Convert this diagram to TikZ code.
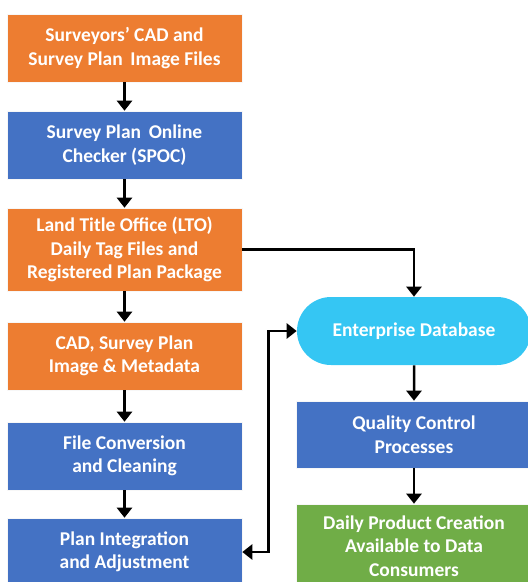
\documentclass[tikz,border=0pt]{standalone}
\usepackage{fontspec}
\setmainfont{Carlito}
\usetikzlibrary{arrows.meta,shapes.misc}
\definecolor{orangeF}{HTML}{ED7D31}
\definecolor{blueF}{HTML}{4472C4}
\definecolor{cyanF}{HTML}{35C6F3}
\definecolor{greenF}{HTML}{70AD47}
\begin{document}
\begin{tikzpicture}[x=1pt,y=-1pt,
  box/.style={rectangle, draw=white!70!black!10, line width=0.6pt, minimum width=235pt, minimum height=68pt,
    text=white, font=\fontsize{19.5}{23.5}\selectfont\bfseries, align=center, inner sep=0pt},
  obox/.style={box, fill=orangeF},
  bbox/.style={box, fill=blueF},
  gbox/.style={box, fill=greenF},
  dbbox/.style={box, fill=cyanF, draw=none, rounded rectangle},
  conn/.style={line width=2.5pt, -{Triangle[width=15pt,length=10pt]}},
  dconn/.style={line width=2.5pt, {Triangle[width=15pt,length=10pt]}-{Triangle[width=15pt,length=10pt]}}]
\useasboundingbox (0,0) rectangle (528,582);
\clip (0,0) rectangle (528,582);
\node[obox] (b1) at (124.5,48) {Surveyors’ CAD and\\Survey Plan\, Image Files};
\node[bbox] (b2) at (124.5,145) {Survey Plan\, Online\\Checker (SPOC)};
\node[obox, minimum height=83pt] (b3) at (124.5,249.5) {Land Title Office (LTO)\\Daily Tag Files and\\Registered Plan Package};
\node[obox] (b4) at (124.5,356) {CAD, Survey Plan\\Image \& Metadata};
\node[bbox] (b5) at (124.5,456) {File Conversion\\and Cleaning};
\node[bbox] (b6) at (124.5,552) {Plan Integration\\and Adjustment};
\node[dbbox, minimum width=234pt] (db) at (414,331) {Enterprise Database};
\node[bbox, minimum width=236pt, minimum height=67pt] (qc) at (414,434.5) {Quality Control\\Processes};
\node[gbox, minimum width=236pt, minimum height=84pt] (dp) at (414,546) {Daily Product Creation\\Available to Data\\Consumers};
\draw[conn] (b1) -- (b2);
\draw[conn] (b2) -- (b3);
\draw[conn] (b3) -- (b4);
\draw[conn] (b4) -- (b5);
\draw[conn] (b5) -- (b6);
\draw[conn] (b3.east) -| (db.north);
\draw[conn] (db) -- (qc);
\draw[conn] (qc) -- (dp);
\draw[dconn] (db.west) -- ++(-28,0) |- (b6.east);
\end{tikzpicture}
\end{document}
